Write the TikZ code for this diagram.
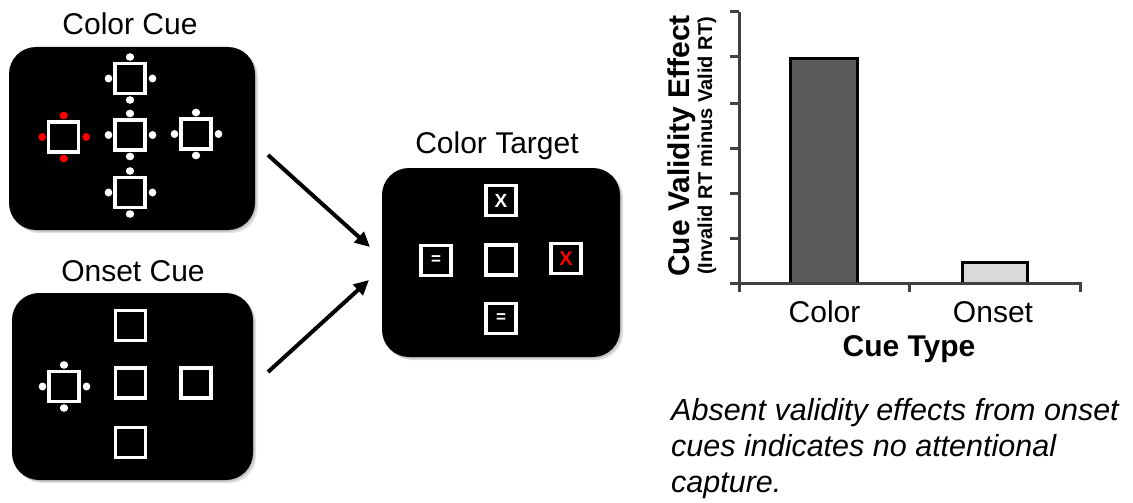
\documentclass[tikz,border=0pt]{standalone}
\usepackage{fontspec}
\setmainfont{Liberation Sans}
\usetikzlibrary{arrows.meta}
\definecolor{axisgray}{HTML}{404040}
\definecolor{bardark}{HTML}{595959}
\definecolor{barlight}{HTML}{D9D9D9}
\newcommand\cuedots[3]{%
  \fill[#3] (#1,#2-21.5) ellipse [x radius=4.2pt, y radius=3.8pt];
  \fill[#3] (#1,#2+21.5) ellipse [x radius=4.2pt, y radius=3.8pt];
  \fill[#3] (#1-21.5,#2) ellipse [x radius=3.8pt, y radius=4.0pt];
  \fill[#3] (#1+22.5,#2) ellipse [x radius=3.8pt, y radius=4.0pt];}
\newcommand\panelbox[5]{%
  \fill[black,opacity=0.12] (#1+3,#2+3) rectangle (#3+3,#4+3);
  \fill[black,opacity=0.12] (#1+1.5,#2+1.5) rectangle (#3+1.5,#4+1.5);
  \node[panel, minimum width=#3-#1, minimum height=#4-#2] (#5) at ({(#1+#3)/2},{(#2+#4)/2}) {};}
\begin{document}
\begin{tikzpicture}[x=1pt,y=-1pt,
  panel/.style={fill=black, rounded corners=27pt, inner sep=0pt},
  sq/.style={draw=white, line width=3.3pt, minimum size=30pt, inner sep=0pt, fill=black, text=white},
  ttl/.style={font=\fontsize{30}{36}\selectfont, anchor=base, inner sep=0pt},
  bigarrow/.style={line width=4pt, -{Triangle[length=15pt,width=14pt]}},
  axisline/.style={draw=axisgray, line width=3pt},
  bar/.style={draw=black, line width=3pt},
  note/.style={font=\itshape\fontsize{30.5}{36}\selectfont, anchor=base west, inner sep=0pt}]
\useasboundingbox (0,0) rectangle (1133,503);

% ---- titles
\node[ttl] (tcolor) at (130,35) {Color Cue};
\node[ttl] (tonset) at (133,281.5) {Onset Cue};
\node[ttl] (ttarget) at (497,153) {Color Target};

% ---- panels (soft shadow via rounded rect layers)
\begin{scope}[rounded corners=27pt]
\panelbox{9}{47}{255}{230}{pcolor}
\panelbox{12}{293}{253}{480}{ponset}
\panelbox{382}{168}{620}{357}{ptarget}
\end{scope}

% ---- color cue display
\node[sq] (c1) at (130,78.5) {};
\node[sq] (c2) at (130,135) {};
\node[sq] (c3) at (63.7,137) {};
\node[sq] (c4) at (196,134) {};
\node[sq] (c5) at (130,192.5) {};
\cuedots{130}{78.5}{white}
\cuedots{130}{135}{white}
\cuedots{63.7}{137}{red}
\cuedots{196}{134}{white}
\cuedots{130}{192.5}{white}

% ---- onset cue display
\node[sq] (o1) at (130.5,325.5) {};
\node[sq] (o2) at (130.5,383) {};
\node[sq] (o3) at (64,386.5) {};
\node[sq] (o4) at (196,383) {};
\node[sq] (o5) at (130.5,442.5) {};
\cuedots{64}{386.5}{white}

% ---- target display
\node[sq, font=\bfseries\fontsize{19}{19}\selectfont] (g1) at (501,200.5) {X};
\node[sq, font=\bfseries\fontsize{17}{17}\selectfont] (g2) at (436,260.5) {=};
\node[sq] (g3) at (501,260) {};
\node[sq, font=\bfseries\fontsize{20}{20}\selectfont, text=red] (g4) at (566,258.5) {X};
\node[sq, font=\bfseries\fontsize{17}{17}\selectfont] (g5) at (501,318.5) {=};

% ---- arrows
\coordinate (a1s) at (268,155);
\coordinate (a1e) at (370,247);
\coordinate (a2s) at (268,372);
\coordinate (a2e) at (369,280);
\draw[bigarrow] (a1s) -- (a1e);
\draw[bigarrow] (a2s) -- (a2e);

% ---- chart
\coordinate (ytop) at (739,12);
\coordinate (ybot) at (739,292);
\coordinate (origin) at (739,283);
\coordinate (xend) at (1080,283);
\draw[axisline] (ytop) -- (ybot);
\draw[axisline] (origin) -- (xend) -- (1080,292);
\draw[axisline] (909,283) -- (909,292);
\foreach \ty in {12,57,103,148,193,238,283}
  \draw[axisline] (730,\ty) -- (739,\ty);
\filldraw[bar, fill=bardark] (790.5,283) rectangle (857.5,58.5);
\filldraw[bar, fill=barlight] (962,283) rectangle (1027,262.5);
\draw[axisline] (origin) -- (xend);

\node[ttl] (lcolor) at (824.5,322) {Color};
\node[ttl] (lonset) at (993,322) {Onset};
\node[ttl, font=\bfseries\fontsize{30}{36}\selectfont] (lxt) at (909,356) {Cue Type};
\node[ttl, rotate=90, font=\bfseries\fontsize{30}{36}\selectfont] (lyt) at (689,146) {Cue Validity Effect};
\node[ttl, rotate=90, font=\bfseries\fontsize{20}{24}\selectfont] (lys) at (712,146) {(Invalid RT minus Valid RT)};

% ---- note
\node[note] (n1) at (671,420) {Absent validity effects from onset};
\node[note] (n2) at (671,456) {cues indicates no attentional};
\node[note] (n3) at (671,492) {capture.};
\end{tikzpicture}
\end{document}
